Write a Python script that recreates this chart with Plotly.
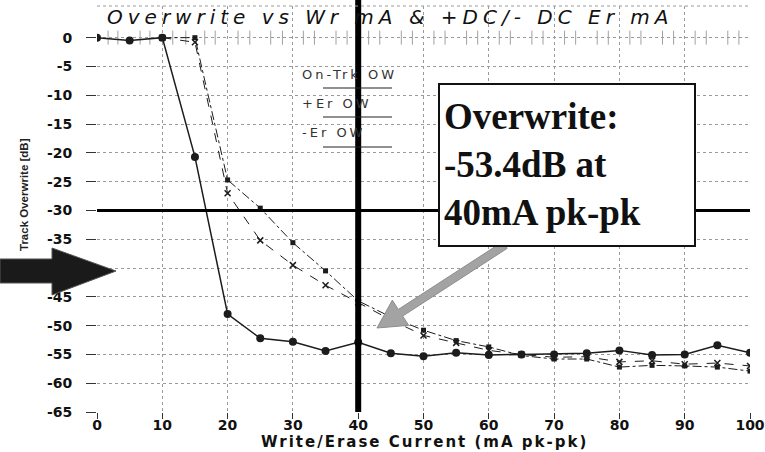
import numpy as np
import plotly.graph_objects as go

# ---------------- data ----------------
x_on = [0, 5, 10, 15, 20, 25, 30, 35, 40, 45, 50, 55, 60, 65, 70, 75, 80, 85, 90, 95, 100]
y_on = [0, -0.5, 0, -20.7, -48, -52.2, -52.8, -54.4, -52.9, -54.8, -55.3, -54.7, -55.1,
        -55, -55, -54.8, -54.3, -55.1, -55, -53.4, -54.7]

x_er = [10, 15, 20, 25, 30, 35, 40, 45, 50, 55, 60, 65, 70, 75, 80, 85, 90, 95, 100]
y_plus = [0, 0, -24.7, -29.6, -35.6, -40.5, -45.7, -48.5, -50.8, -52.6, -53.7, -55.2,
          -55.8, -55.8, -57.2, -56.9, -57, -57.2, -57.9]
y_minus = [0, -0.8, -27, -35.2, -39.5, -43, -46, -49, -51.7, -53, -54.3, -55, -55.5,
           -55.4, -56.3, -56.1, -56.7, -56.5, -57]

x_ticks = [0, 10, 20, 30, 40, 50, 60, 70, 80, 90, 100]
y_ticks = [0, -5, -10, -15, -20, -25, -30, -35, -40, -45, -50, -55, -60, -65]

whisker_x = [1.7, 3.2, 6.6, 8.1, 11.6, 13.6, 16.5, 18.1, 21.6, 23.4, 26.6, 28.4,
             31.6, 33.3, 36.6, 38.3, 41.6, 43.3, 46.6, 48.3, 51.6, 53.3, 56.6, 58.3,
             61.6, 63.3, 66.6, 68.3, 71.6, 73.3, 76.6, 78.3, 81.6, 83.3, 86.6, 88.3,
             91.6, 93.3, 96.6, 98.3]
whisker_y = [0] * len(whisker_x)

series_names = ["On-Trk OW", "+Er OW", "-Er OW"]
title_text = "Overwrite vs Wr mA & +DC/- DC Er mA"
callout_text = "Overwrite:<br>-53.4dB at<br>40mA pk-pk"
x_title = "Write/Erase Current (mA pk-pk)"
y_title = "Track Overwrite [dB]"

# ---------------- layout helpers (pixel -> paper) ----------------
W, H = 765, 452
L, R, T, B = 97, 15, 6, 40
PW, PH = W - L - R, H - T - B


def fx(p):
    return (p - L) / PW


def fy(p):
    return (H - B - p) / PH


def path(points):
    return "M " + " L ".join(f"{fx(a):.5f},{fy(b):.5f}" for a, b in points) + " Z"


def spaced(s, px):
    return f'<span style="letter-spacing:{px}px">{s}</span>'


INK = "#1c1c1c"

fig = go.Figure()

fig.add_trace(go.Scatter(x=whisker_x, y=whisker_y, mode="markers",
                         marker=dict(symbol="line-ns", size=10,
                                     line=dict(color="#a0a0a0", width=1)),
                         showlegend=False, hoverinfo="skip"))

fig.add_trace(go.Scatter(x=x_er, y=y_minus, mode="lines+markers", name=series_names[2],
                         line=dict(color=INK, width=1, dash="dash"),
                         marker=dict(symbol="x-thin", size=6, line=dict(color=INK, width=1.5)),
                         showlegend=False))
fig.add_trace(go.Scatter(x=x_er, y=y_plus, mode="lines+markers", name=series_names[1],
                         line=dict(color=INK, width=1, dash="dashdot"),
                         marker=dict(symbol="square", size=5, color=INK),
                         showlegend=False))
fig.add_trace(go.Scatter(x=x_on, y=y_on, mode="lines+markers", name=series_names[0],
                         line=dict(color=INK, width=1.5),
                         marker=dict(symbol="circle", size=8, color=INK),
                         showlegend=False))

shapes = []
# thick reference lines
shapes.append(dict(type="line", xref="paper", yref="y", x0=0, x1=1, y0=-30, y1=-30,
                   line=dict(color="#000", width=3)))
shapes.append(dict(type="line", xref="paper", yref="paper", x0=0.4, x1=0.4,
                   y0=0, y1=fy(0), line=dict(color="#000", width=6)))
# top border dotted
shapes.append(dict(type="line", xref="paper", yref="paper", x0=0, x1=1, y0=1, y1=1,
                   line=dict(color="#9a9a9a", width=1, dash="dot")))
# legend sample lines
for ly in (88, 117, 147):
    shapes.append(dict(type="line", xref="paper", yref="paper", x0=fx(323), x1=fx(392),
                       y0=fy(ly), y1=fy(ly), line=dict(color="#222", width=1.2)))

# gray callout arrow
tip = np.array([377.0, 328.0])
tail = np.array([505.0, 245.0])
u = (tail - tip) / np.linalg.norm(tail - tip)
n = np.array([-u[1], u[0]])
base = tip + 28 * u
pts = [tip, base + 15 * n, base + 4 * n, tail + 4 * n, tail - 4 * n, base - 4 * n, base - 15 * n]
shapes.append(dict(type="path", xref="paper", yref="paper",
                   path=path([tuple(p) for p in pts]),
                   fillcolor="#a3a3a3", line=dict(color="#8c8c8c", width=1)))

# callout box
shapes.append(dict(type="rect", xref="paper", yref="paper", x0=fx(439), x1=fx(695),
                   y0=fy(246), y1=fy(84), fillcolor="white",
                   line=dict(color="#111", width=2)))

# big black arrow on left
shapes.append(dict(type="path", xref="paper", yref="paper",
                   path=path([(0, 259), (52, 259), (52, 248), (116, 271),
                              (52, 295), (52, 283), (0, 283)]),
                   fillcolor="#1a1a1a", line=dict(color="#555", width=1)))

annotations = [
    dict(text=spaced(title_text, 5), xref="paper", yref="paper", x=fx(390), y=fy(17),
         xanchor="center", yanchor="middle", showarrow=False,
         font=dict(family="DejaVu Sans", size=20, style="italic", color="#111")),
    dict(text=callout_text, xref="paper", yref="paper", x=fx(442), y=fy(164),
         xanchor="left", yanchor="middle", align="left", showarrow=False,
         font=dict(family="Liberation Serif", size=37, weight="bold", color="#111")),
    dict(text=y_title, xref="paper", yref="paper", x=fx(24), y=fy(195),
         xanchor="center", yanchor="middle", textangle=-90, showarrow=False,
         font=dict(family="Liberation Sans", size=11.5, weight="bold", color="#222")),
    dict(text=spaced(x_title, 2), xref="paper", yref="paper", x=fx(425), y=fy(442),
         xanchor="center", yanchor="middle", showarrow=False,
         font=dict(family="DejaVu Sans", size=15, weight="bold", color="#111")),
]
for name, ly in zip(series_names, (75, 103, 132)):
    annotations.append(dict(text=spaced(name, 3), xref="paper", yref="paper", x=fx(300), y=fy(ly),
                            xanchor="left", yanchor="middle", showarrow=False,
                            font=dict(family="DejaVu Sans", size=13, color="#333")))

fig.update_layout(
    width=W, height=H,
    margin=dict(l=L, r=R, t=T, b=B, autoexpand=False),
    paper_bgcolor="white", plot_bgcolor="white",
    showlegend=False,
    shapes=shapes, annotations=annotations,
    xaxis=dict(range=[0, 100], tickvals=x_ticks,
               ticktext=[str(v) for v in x_ticks],
               ticks="outside", ticklen=6, ticklabelstandoff=-6,
               tickcolor="#333", showline=False, zeroline=False, automargin=False,
               showgrid=True, gridcolor="#9a9a9a", griddash="dot", gridwidth=1,
               tickfont=dict(family="DejaVu Sans", size=14, weight="bold", color="#111")),
    yaxis=dict(range=[-65, 5.5], tickvals=y_ticks,
               ticktext=[str(v) for v in y_ticks],
               ticks="outside", ticklen=10, tickcolor="#333", ticklabelstandoff=11,
               showline=False, zeroline=False, automargin=False,
               showgrid=True, gridcolor="#9a9a9a", griddash="dot", gridwidth=1,
               tickfont=dict(family="DejaVu Sans", size=14, weight="bold", color="#111")),
)

fig.write_html("out.html", config={"displayModeBar": False},
               post_script="document.body.style.margin='0';document.body.style.overflow='hidden';")
